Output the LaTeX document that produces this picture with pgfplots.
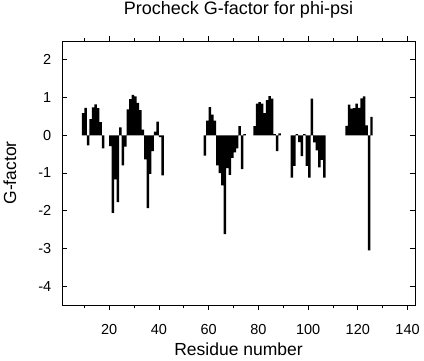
\documentclass[border=0pt]{standalone}
\usepackage{fontspec}
\setmainfont{Liberation Sans}
\usepackage{pgfplots}
\pgfplotsset{compat=1.18}
\begin{document}
\begin{tikzpicture}
\begin{axis}[
  at={(0,0)}, anchor=south west,
  scale only axis, width=353pt, height=264pt,
  xmin=1, xmax=143, ymin=-4.5, ymax=2.5,
  axis line style={line width=0.8pt},
  tick style={line width=0.8pt, black},
  tick align=inside,
  major tick length=5pt, minor tick length=3pt,
  xtick={20,40,60,80,100,120,140},
  xticklabels={20,40,60,80,100,120,140},
  minor xtick={10,30,50,70,90,110,130},
  ytick={-4,-3,-2,-1,0,1,2},
  yticklabels={-4,-3,-2,-1,0,1,2},
  xticklabel style={font=\fontsize{14.5}{16}\selectfont, inner sep=0pt, anchor=north},
  yticklabel style={font=\fontsize{14.5}{16}\selectfont, inner sep=0pt, anchor=east},
  xticklabel shift=14pt, yticklabel shift=10.5pt,
  title={Procheck G-factor for phi-psi},
  title style={font=\fontsize{18}{20}\selectfont, at={(axis description cs:0.5,1.0769)}, anchor=base, inner sep=0pt},
  xlabel={Residue number},
  xlabel style={font=\fontsize{17.5}{19}\selectfont, at={(axis description cs:0.5,-0.1894)}, anchor=base, inner sep=0pt},
  ylabel={G-factor},
  ylabel style={font=\fontsize{17.5}{19}\selectfont, at={(axis description cs:-0.1303,0.5)}, anchor=base, inner sep=0pt},
  ybar, bar width=1,
]
\addplot[fill=black, draw=none] coordinates {
(9.5,0.59) (10.5,0.73) (11.5,-0.27) (12.5,0.43) (13.5,0.74) (14.5,0.82) (15.5,0.72) (16.5,0.35) (17.5,-0.35)
(20.5,-0.29) (21.5,-2.06) (22.5,-1.17) (23.5,-1.77) (24.5,0.21) (25.5,-0.80) (26.5,-0.30) (27.5,0.69) (28.5,0.96) (29.5,1.07)
(30.5,1.03) (31.5,0.86) (32.5,0.67) (33.5,0.15) (34.5,-0.64) (35.5,-1.93) (36.5,-1.02) (37.5,-0.42) (38.5,0.10) (39.5,0.36)
(40.5,-0.05) (41.5,-1.06)
(58.5,-0.54) (59.5,0.39) (60.5,0.75) (61.5,0.55) (62.5,0.39) (63.5,-0.80) (64.5,-1.00) (65.5,-1.33) (66.5,-2.62) (67.5,-0.87)
(68.5,-1.05) (69.5,-0.60) (70.5,-0.45) (71.5,-0.35) (72.5,0.24) (73.5,-0.90) (74.5,0.03)
(78.5,0.24) (79.5,0.84) (80.5,0.88) (81.5,0.84) (82.5,0.59) (83.5,0.93) (84.5,1.04) (85.5,0.97) (86.5,0.03) (87.5,-0.42) (88.5,0.05)
(93.5,-1.12) (94.5,-0.81) (95.5,0.03) (96.5,-0.18) (97.5,-0.55) (98.5,0.03) (99.5,-0.81) (100.5,-1.12) (101.5,0.97)
(102.5,-0.19) (103.5,-0.40) (104.5,-0.85) (105.5,-0.65) (106.5,-1.12)
(115.5,0.25) (116.5,0.81) (117.5,0.71) (118.5,0.72) (119.5,0.84) (120.5,0.73) (121.5,0.98) (122.5,1.03) (123.5,0.26)
(124.5,-3.05) (125.5,0.49)
};
\end{axis}
\pgfresetboundingbox
\path[use as bounding box] (-62pt,-55pt) rectangle (362pt,305pt);
\end{tikzpicture}
\end{document}
